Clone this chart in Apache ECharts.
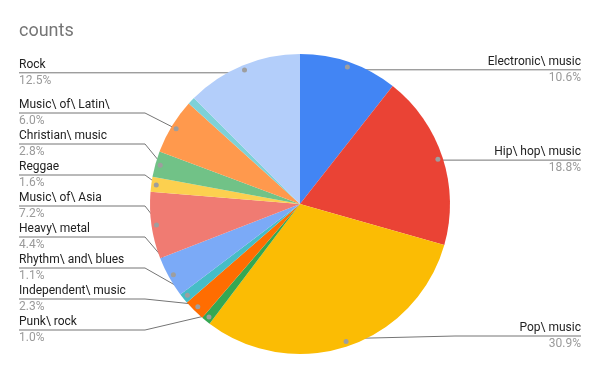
<!DOCTYPE html>
<html><head><meta charset="utf-8">
<script src="https://cdn.jsdelivr.net/npm/echarts@6/dist/echarts.min.js"></script>
<style>html,body{margin:0;padding:0;background:#fff}#c{width:600px;height:371px}</style>
</head><body><div id="c"></div>
<script>
const titleText = "counts";
const categories = ["Electronic\\ music","Hip\\ hop\\ music","Pop\\ music","Punk\\ rock","Independent\\ music","Rhythm\\ and\\ blues","Heavy\\ metal","Music\\ of\\ Asia","Reggae","Christian\\ music","Music\\ of\\ Latin\\","Other","Rock"];
const shares = [10.6,18.8,30.9,1.0,2.3,1.1,4.4,7.2,1.6,2.8,6.0,0.8,12.5];
const labelled = [true,true,true,true,true,true,true,true,true,true,true,false,true];
const sliceColors = ["#4285F4","#EA4335","#FBBC04","#34A853","#FF6D01","#46BDC6","#7BAAF7","#F07B72","#FCD04F","#71C287","#FF994D","#7ED1D7","#B3CEFA"];

const FONT = "Roboto, 'Liberation Sans', Arial, sans-serif";
const CX = 300, CY = 204, R = 150, DOT_R = 142;
const total = shares.reduce((a, b) => a + b, 0);
let acc = 0;
const anchors = shares.map(v => {
  const th = 2 * Math.PI * (acc + v / 2) / total; acc += v;
  return { x: CX + DOT_R * Math.sin(th), y: CY - DOT_R * Math.cos(th), left: Math.sin(th) < 0 };
});
function spread(idx, maxY) {
  idx.sort((a, b) => anchors[a].y - anchors[b].y);
  const ys = [];
  idx.forEach((i, k) => { ys[k] = k ? Math.max(anchors[i].y, ys[k - 1] + 31) : anchors[i].y; });
  for (let k = idx.length - 1; k >= 0; k--) {
    ys[k] = Math.min(ys[k], k === idx.length - 1 ? maxY : ys[k + 1] - 31);
  }
  idx.forEach((i, k) => { anchors[i].ly = ys[k]; });
}
const leftIdx = [], rightIdx = [];
anchors.forEach((a, i) => { if (labelled[i]) (a.left ? leftIdx : rightIdx).push(i); });
spread(leftIdx, 330);
spread(rightIdx, 336);

const data = categories.map((n, i) => ({
  name: n, value: shares[i], itemStyle: { color: sliceColors[i] },
  label: { show: labelled[i] }, labelLine: { show: labelled[i] }
}));

const chart = echarts.init(document.getElementById('c'), null, { renderer: 'canvas' });
chart.setOption({
  animation: false,
  title: { text: titleText, left: 19, top: 22, padding: 0,
    textStyle: { fontSize: 18, fontWeight: 'normal', color: '#757575', fontFamily: FONT } },
  series: [{
    type: 'pie', center: [CX, CY], radius: [0, R], startAngle: 90, clockwise: true,
    silent: true,
    data: data,
    label: { position: 'outside',
      formatter: p => '{n|' + p.name + '}\n{p|' + (100 * p.value / total).toFixed(1) + '%}',
      rich: { n: { fontSize: 12, color: '#222', lineHeight: 16, fontFamily: FONT },
              p: { fontSize: 12, color: '#9a9a9a', lineHeight: 16, fontFamily: FONT } } },
    labelLine: { show: true, length: 5, length2: 5, lineStyle: { color: '#757575', width: 1 } },
    labelLayout: function (p) {
      const i = p.dataIndex;
      if (!labelled[i]) return {};
      const a = anchors[i], L = a.left;
      const ex = L ? 19 : 581;
      return { x: ex, y: a.ly, align: L ? 'left' : 'right', verticalAlign: 'middle',
        labelLinePoints: [[a.x, a.y], [L ? CX - R - 5 : CX + R + 5, a.ly], [ex, a.ly]] };
    }
  }, {
    type: 'pie', center: [CX, CY], radius: [0, DOT_R * 2], startAngle: 90, clockwise: true,
    silent: true, z: 5,
    data: categories.map((n, i) => ({ name: n, value: shares[i] })),
    itemStyle: { color: 'rgba(0,0,0,0)' },
    label: { position: 'inside',
      formatter: p => labelled[p.dataIndex] ? '{d| }' : '',
      rich: { d: { width: 5, height: 5, borderRadius: 2.5, backgroundColor: '#9e9e9e', fontSize: 1, lineHeight: 5 } } },
    labelLine: { show: false }
  }]
});
</script></body></html>
